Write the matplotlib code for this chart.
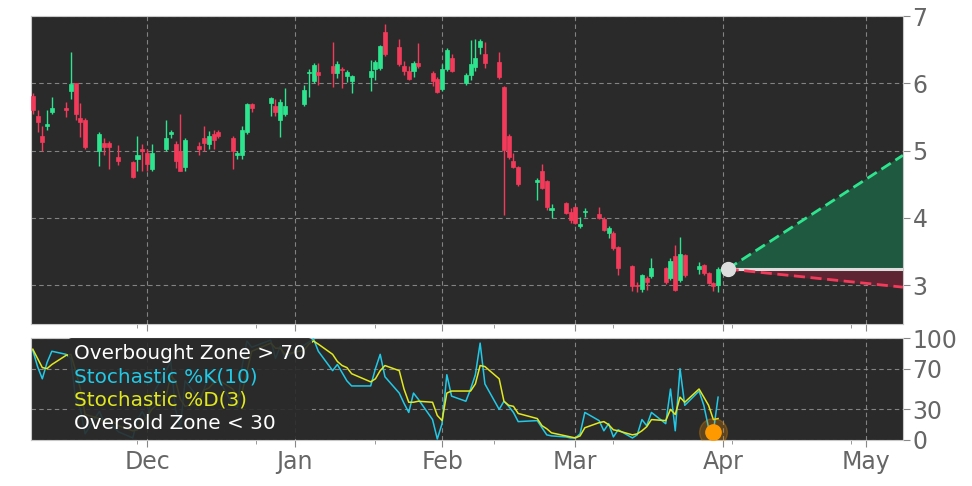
import matplotlib
matplotlib.use("Agg")
import matplotlib.pyplot as plt
import matplotlib.dates as mdates
from matplotlib.lines import Line2D
from matplotlib.ticker import MultipleLocator
import numpy as np

# --- price data ---
dates = (
    ["2022-11-%02d" % d for d in [7, 8, 9, 10, 11, 14, 15, 16, 17, 18, 21, 22, 23, 25, 28, 29, 30]]
    + ["2022-12-%02d" % d for d in [1, 2, 5, 6, 7, 8, 9, 12, 13, 14, 15, 16, 19, 20, 21, 22, 23, 27, 28, 29, 30]]
    + ["2023-01-%02d" % d for d in [3, 4, 5, 6, 9, 10, 11, 12, 13, 17, 18, 19, 20, 23, 24, 25, 26, 27, 30, 31]]
    + ["2023-02-%02d" % d for d in [1, 2, 3, 6, 7, 8, 9, 10, 13, 14, 15, 16, 17, 21, 22, 23, 24, 27, 28]]
    + ["2023-03-%02d" % d for d in [1, 2, 3, 6, 7, 8, 9, 10, 13, 14, 15, 16, 17, 20, 21, 22, 23, 24, 27, 28, 29, 30, 31]]
)

opens = [5.81, 5.52, 5.22, 5.36, 5.58, 5.63, 5.88, 6.00, 5.49, 5.46, 5.00, 5.12, 5.11, 4.91, 4.83, 4.88, 5.03,
         4.97, 4.72, 5.03, 5.24, 5.10, 4.99, 4.76, 5.07, 5.19, 5.10, 5.25, 5.27, 5.19, 4.93, 4.94, 5.28, 5.69, 5.70, 5.67, 5.45, 5.54,
         5.69, 6.15, 6.03, 6.17, 6.26, 6.16, 6.22, 6.11, 6.03, 6.09, 6.22, 6.23, 6.76, 6.54, 6.25, 6.19, 6.18, 6.30, 6.16, 6.07,
         5.91, 6.21, 6.37, 6.01, 6.13, 6.24, 6.54, 6.43, 6.31, 5.95, 5.21, 4.84, 4.75, 4.54, 4.69, 4.55, 4.12, 4.22, 4.09,
         4.16, 3.88, 4.08, 4.06, 3.98, 3.78, 3.78, 3.57, 3.28, 3.00, 2.95, 3.10, 3.13, 3.25, 3.10, 3.43, 3.07, 3.45, 3.24, 3.30, 3.18, 3.03, 3.00]
highs = [5.86, 5.61, 5.37, 5.61, 5.80, 5.72, 6.46, 6.00, 5.70, 5.48, 5.28, 5.18, 5.14, 5.09, 4.84, 5.22, 5.10,
         5.02, 5.10, 5.46, 5.31, 5.14, 5.54, 5.18, 5.13, 5.36, 5.29, 5.31, 5.31, 5.22, 5.00, 5.37, 5.71, 5.71, 5.79, 5.76, 5.77, 5.93,
         5.97, 6.22, 6.30, 6.30, 6.62, 6.33, 6.24, 6.20, 6.13, 6.34, 6.35, 6.57, 6.88, 6.66, 6.33, 6.25, 6.33, 6.60, 6.18, 6.10,
         6.28, 6.53, 6.43, 6.16, 6.65, 6.66, 6.66, 6.61, 6.46, 5.96, 5.24, 4.96, 4.77, 4.60, 4.80, 4.57, 4.20, 4.23, 4.14,
         4.18, 4.02, 4.14, 4.16, 4.02, 3.88, 3.80, 3.58, 3.30, 3.05, 3.17, 3.13, 3.40, 3.27, 3.41, 3.59, 3.72, 3.47, 3.35, 3.32, 3.20, 3.05, 3.27]
lows = [5.55, 5.28, 5.00, 5.30, 5.55, 5.50, 5.76, 5.45, 5.20, 5.02, 4.77, 4.93, 4.73, 4.78, 4.59, 4.70, 4.70,
        4.70, 4.70, 4.99, 5.18, 4.74, 4.69, 4.70, 4.93, 5.00, 5.02, 5.02, 5.18, 4.72, 4.87, 4.87, 5.24, 5.58, 5.52, 5.52, 5.20, 5.51,
        5.66, 5.80, 6.00, 5.97, 5.95, 6.08, 5.93, 6.02, 5.85, 5.89, 6.05, 6.20, 6.40, 6.25, 6.12, 6.05, 6.10, 6.23, 5.96, 5.86,
        5.88, 6.19, 6.17, 5.98, 6.05, 6.19, 6.43, 6.23, 6.07, 4.04, 4.88, 4.74, 4.47, 4.27, 4.43, 4.12, 4.00, 4.06, 3.93,
        3.91, 3.85, 4.01, 3.98, 3.80, 3.70, 3.52, 3.15, 2.92, 2.90, 2.90, 2.93, 3.10, 3.02, 3.08, 2.91, 3.05, 3.12, 3.16, 3.15, 3.01, 2.92, 2.90]
closes = [5.61, 5.42, 5.13, 5.40, 5.63, 5.60, 5.99, 5.54, 5.43, 5.06, 5.25, 5.06, 5.05, 4.85, 4.61, 4.94, 4.99,
          4.80, 4.97, 5.19, 5.27, 4.84, 4.70, 5.16, 5.03, 5.12, 5.22, 5.16, 5.21, 4.99, 4.96, 5.31, 5.69, 5.63, 5.78, 5.57, 5.72, 5.67,
          5.90, 6.16, 6.27, 6.13, 6.15, 6.28, 6.20, 6.17, 6.11, 6.18, 6.31, 6.56, 6.43, 6.28, 6.18, 6.06, 6.30, 6.25, 6.04, 5.87,
          6.22, 6.49, 6.19, 6.13, 6.28, 6.37, 6.63, 6.30, 6.09, 5.01, 4.90, 4.76, 4.51, 4.57, 4.45, 4.16, 4.14, 4.07, 3.97,
          3.93, 3.91, 4.10, 4.00, 3.82, 3.85, 3.55, 3.25, 2.99, 2.98, 3.15, 3.04, 3.25, 3.04, 3.36, 2.93, 3.46, 3.15, 3.28, 3.18, 3.03, 2.99, 3.24]

# stochastic oscillator values
stoch_k = [88, 72, 60, 76, 87, 84, 80, 40, 30, 6, 28, 17, 18, 8, 2, 20, 28,
           19, 43, 68, 77, 30, 12, 58, 40, 50, 62, 55, 60, 35, 32, 73, 97, 91, 98, 80, 92, 80,
           93, 96, 99, 87, 68, 74, 66, 58, 53, 53, 70, 84, 62, 46, 36, 27, 46, 40, 20, 1,
           16, 64, 43, 38, 50, 64, 95, 55, 30, 38, 33, 27, 18, 19, 12, 5, 4, 3, 2,
           2, 6, 27, 19, 9, 16, 3, 10, 2, 5, 20, 14, 27, 16, 50, 9, 70, 34, 48, 34, 12, 8, 42]
stoch_d = [89, 80, 71, 70, 74, 83, 84, 68, 50, 25, 21, 17, 21, 14, 9, 10, 17,
           22, 30, 43, 63, 58, 40, 33, 37, 49, 51, 56, 59, 50, 42, 47, 67, 87, 95, 90, 90, 84,
           88, 94, 97, 94, 84, 77, 73, 71, 65, 57, 60, 68, 73, 68, 50, 37, 37, 38, 37, 24,
           19, 46, 48, 48, 48, 55, 73, 72, 60, 38, 34, 33, 26, 21, 14, 11, 7, 4, 3,
           2, 4, 12, 17, 18, 15, 10, 9, 5, 6, 9, 13, 20, 19, 30, 25, 42, 37, 50, 42, 34, 20, 21]

# projection
proj_dates = ["2023-04-02", "2023-05-08 20:00"]
proj_start = 3.24
proj_high = 4.93
proj_low = 2.97
signal_date = "2023-03-30"
signal_value = 8

GREEN = "#2ee58f"
RED = "#f23a5a"
BG = "#2a2a2a"
GRID = "#9a9a9a"
TXT = "#666666"

x = mdates.date2num(np.array(dates, dtype="datetime64[D]"))
o = np.array(opens)
h = np.array(highs)
l = np.array(lows)
c = np.array(closes)
up = c >= o
colors = np.where(up, GREEN, RED)

px = mdates.date2num(np.array(proj_dates, dtype="datetime64[m]"))
xmin = mdates.date2num(np.datetime64("2022-11-06T15:00"))
xmax = px[1]

fig = plt.figure(figsize=(9.72, 4.86), dpi=100)
ax = fig.add_axes([0.0319, 0.333, 0.897, 0.634])
ax2 = fig.add_axes([0.0319, 0.0947, 0.897, 0.2098], sharex=ax)

for a in (ax, ax2):
    a.set_facecolor(BG)
    for s in a.spines.values():
        s.set_color("#c8c8c8")
    a.grid(True, color=GRID, linestyle=(0, (4, 3)), linewidth=0.8, alpha=0.8)
    a.set_axisbelow(True)
    a.yaxis.tick_right()
    a.tick_params(axis="both", colors="#888888", labelcolor=TXT, labelsize=17, length=5, pad=2)
    a.tick_params(axis="x", which="minor", colors="#888888", length=3)

# candles
ax.vlines(x, l, h, colors=colors, linewidth=1.0, zorder=3)
body = np.maximum(np.abs(c - o), 0.02)
ax.bar(x, body, bottom=np.minimum(o, c), width=0.85, color=colors, edgecolor=colors,
       linewidth=0.5, zorder=4)

# projection cone
ax.fill_between(px, [proj_start, proj_start], [proj_start, proj_high], color="#1f5a40", zorder=2)
ax.fill_between(px, [proj_start, proj_start], [proj_start, proj_low], color="#5e2431", zorder=2)
ax.plot(px, [proj_start, proj_start], color="#dddddd", linewidth=2.2, zorder=3)
ax.plot(px, [proj_start, proj_high], color=GREEN, linewidth=2, linestyle=(0, (4, 2)), zorder=4)
ax.plot(px, [proj_start, proj_low], color=RED, linewidth=2, linestyle=(0, (4, 2)), zorder=4)
ax.plot(px[0], proj_start, "o", color="#dddddd", markersize=10, zorder=5)

ax.set_ylim(2.42, 7.0)
ax.set_yticks([3, 4, 5, 6, 7])
ax.tick_params(axis="x", labelbottom=False)

# stochastic panel
ax2.plot(x, stoch_k, color="#22c9e6", linewidth=1.1, zorder=3)
ax2.plot(x, stoch_d, color="#e1e81e", linewidth=1.1, zorder=3)
sx = mdates.date2num(np.datetime64(signal_date))
ax2.plot(sx, signal_value, "o", color="#ff9900", markersize=20, alpha=0.25, zorder=4)
ax2.plot(sx, signal_value, "o", color="#ff9900", markersize=11, zorder=5)
ax2.set_ylim(0, 100)
ax2.set_yticks([0, 30, 70, 100])

handles = [Line2D([], [], linestyle="none") for _ in range(4)]
labels = ["Overbought Zone > 70", "Stochastic %K(10)", "Stochastic %D(3)", "Oversold Zone < 30"]
leg = ax2.legend(handles, labels, loc="upper left", bbox_to_anchor=(0.042, 1.0),
                 handlelength=0, handletextpad=0, fontsize=14.4, frameon=True,
                 facecolor=BG, edgecolor="none", framealpha=0.9,
                 labelspacing=0.22, borderpad=0.3, borderaxespad=0.0,
                 labelcolor=["white", "#22c9e6", "#e1e81e", "white"])
leg.set_zorder(6)

ax2.set_xlim(xmin, xmax)
ax2.xaxis.set_major_locator(mdates.MonthLocator())
ax2.xaxis.set_major_formatter(mdates.DateFormatter("%b"))
ax2.xaxis.set_minor_locator(MultipleLocator(25))

fig.savefig("out.png", dpi=100, facecolor="white")
